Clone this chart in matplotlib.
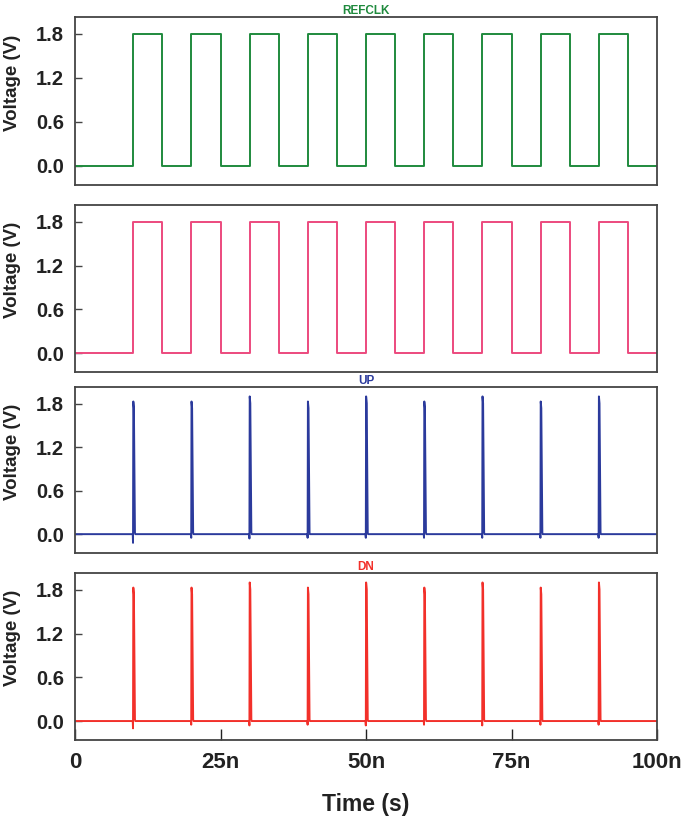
import numpy as np
import matplotlib
matplotlib.use("Agg")
import matplotlib.pyplot as plt

plt.rcParams['font.family'] = ['Liberation Sans', 'DejaVu Sans']
plt.rcParams['font.weight'] = 'bold'

# ---- data (times in ns, voltages in V) ----
clk_rise = [10, 20, 30, 40, 50, 60, 70, 80, 90]
clk_fall = [15, 25, 35, 45, 55, 65, 75, 85, 95]
clk_high = 1.8
clk_low = 0.0

spike_times = [10, 20, 30, 40, 50, 60, 70, 80, 90]
up_peaks = [1.83, 1.83, 1.90, 1.83, 1.90, 1.83, 1.90, 1.83, 1.90]
up_dips = [-0.12, -0.05, -0.06, -0.05, -0.05, -0.05, -0.05, -0.05, -0.05]
dn_peaks = [1.83, 1.83, 1.90, 1.83, 1.90, 1.83, 1.90, 1.83, 1.90]
dn_dips = [-0.1, -0.05, -0.06, -0.05, -0.06, -0.05, -0.06, -0.05, -0.05]

titles = ["REFCLK", "", "UP", "DN"]
colors = ["#1f8a3d", "#ec4a7e", "#2b3a9c", "#f2302a"]
yticks = [0.0, 0.6, 1.2, 1.8]
xticks = [0, 25, 50, 75, 100]
xticklabels = ["0", "25n", "50n", "75n", "100n"]


def clock_wave(rises, falls, hi, lo):
    t = [0.0]
    v = [lo]
    for r, f in zip(rises, falls):
        t += [r, r, f, f]
        v += [lo, hi, hi, lo]
    t.append(100.0)
    v.append(lo)
    return t, v


def spike_wave(times, peaks, dips):
    t = [0.0]
    v = [0.0]
    for s, p, d in zip(times, peaks, dips):
        t += [s - 0.08, s - 0.03, s + 0.02, s + 0.12, s + 0.3, s + 0.36]
        v += [0.0, d, p, p * 0.95, 0.02, 0.0]
    t.append(100.0)
    v.append(0.0)
    return t, v


waves = [
    clock_wave(clk_rise, clk_fall, clk_high, clk_low),
    clock_wave(clk_rise, clk_fall, clk_high, clk_low),
    spike_wave(spike_times, up_peaks, up_dips),
    spike_wave(spike_times, dn_peaks, dn_dips),
]

fig = plt.figure(figsize=(6.85, 8.19), dpi=100)
W, H = 685.0, 819.0
left, right = 75, 657
panels = [(17, 185), (205, 372), (387, 553), (573, 740)]

axes = []
for i, (top, bot) in enumerate(panels):
    ax = fig.add_axes([left / W, 1 - bot / H, (right - left) / W, (bot - top) / H])
    t, v = waves[i]
    ax.plot(t, v, color=colors[i], lw=1.4)
    ax.set_xlim(0, 100)
    ax.set_ylim(-0.26, 2.03)
    ax.set_yticks(yticks)
    ax.set_yticklabels([f"{y:.1f}" for y in yticks], fontsize=14.5, fontweight='bold', color='#222222')
    ax.tick_params(axis='y', direction='in', length=5, width=1, color='#444444', pad=8)
    ax.set_ylabel("Voltage (V)", fontsize=13.5, fontweight='bold', color='#222222')
    ax.yaxis.set_label_coords(-0.093, 0.61)
    for sp in ax.spines.values():
        sp.set_color('#444444')
        sp.set_linewidth(1.3)
    if titles[i]:
        ax.set_title(titles[i], fontsize=8.5, fontweight='bold', color=colors[i], pad=2)
    if i < 3:
        ax.set_xticks([])
    else:
        ax.set_xticks(xticks)
        ax.set_xticklabels(xticklabels, fontsize=16, fontweight='bold', color='#222222')
        ax.tick_params(axis='x', direction='in', length=8, width=1, color='#222222', pad=9)
        ax.set_xlabel("Time (s)", fontsize=16.5, fontweight='bold', color='#222222', labelpad=14)
    axes.append(ax)

fig.savefig("out.png", dpi=100)
